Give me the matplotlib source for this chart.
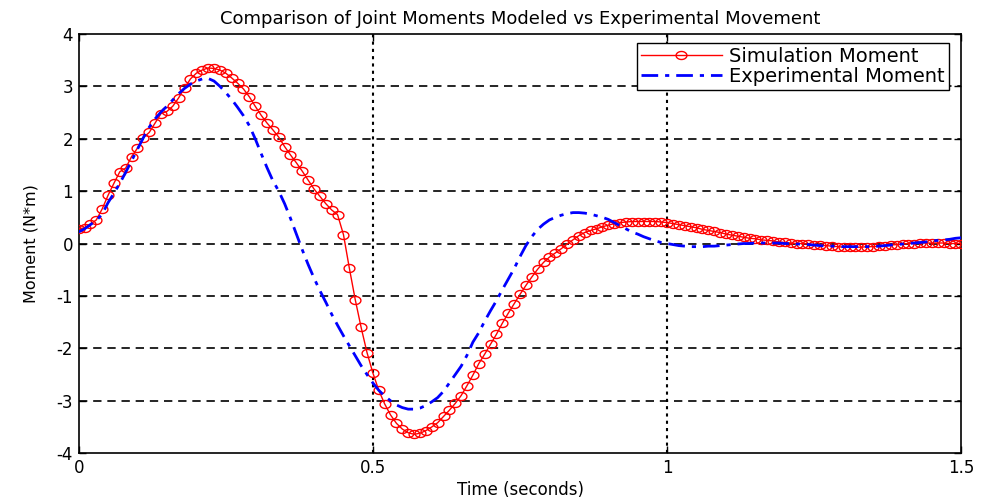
import numpy as np
import matplotlib
matplotlib.use("Agg")
import matplotlib.pyplot as plt
from matplotlib.path import Path

plt.rcParams['font.family'] = ['DejaVu Sans']

# Sampling interval of both moment traces (seconds)
dt = 0.01

# Simulated joint moment (N*m), one value per sample from t = 0 to 1.5 s
sim_moment = [
    0.28, 0.30, 0.37, 0.45, 0.66, 0.92, 1.15, 1.37, 1.44, 1.66,
    1.82, 2.02, 2.12, 2.30, 2.48, 2.52, 2.62, 2.78, 2.97, 3.14,
    3.25, 3.31, 3.35, 3.34, 3.31, 3.25, 3.16, 3.06, 2.95, 2.80,
    2.62, 2.45, 2.30, 2.17, 2.03, 1.85, 1.69, 1.54, 1.38, 1.21,
    1.04, 0.90, 0.76, 0.64, 0.55, 0.17, -0.47, -1.07, -1.60, -2.08,
    -2.47, -2.80, -3.06, -3.27, -3.43, -3.54, -3.61, -3.64, -3.62, -3.57,
    -3.50, -3.42, -3.30, -3.18, -3.05, -2.90, -2.71, -2.51, -2.29, -2.11,
    -1.92, -1.73, -1.52, -1.33, -1.15, -0.97, -0.80, -0.64, -0.49, -0.36,
    -0.26, -0.18, -0.10, -0.01, 0.07, 0.15, 0.21, 0.25, 0.28, 0.32,
    0.35, 0.38, 0.40, 0.41, 0.42, 0.42, 0.42, 0.42, 0.42, 0.41,
    0.40, 0.38, 0.36, 0.34, 0.32, 0.30, 0.27, 0.25, 0.23, 0.21,
    0.18, 0.16, 0.14, 0.12, 0.10, 0.09, 0.07, 0.06, 0.05, 0.03,
    0.02, 0.01, 0.00, 0.00, -0.01, -0.02, -0.03, -0.04, -0.05, -0.06,
    -0.07, -0.07, -0.07, -0.07, -0.06, -0.06, -0.05, -0.04, -0.03, -0.02,
    -0.01, 0.00, 0.00, 0.01, 0.01, 0.01, 0.01, 0.01, 0.00, 0.00,
    0.00,
]

# Measured joint moment (N*m), same sampling
exp_moment = [
    0.22, 0.28, 0.36, 0.44, 0.56, 0.78, 0.96, 1.15, 1.36, 1.58,
    1.80, 2.02, 2.22, 2.38, 2.51, 2.62, 2.74, 2.86, 2.96, 3.04,
    3.10, 3.14, 3.15, 3.10, 3.00, 2.88, 2.75, 2.60, 2.44, 2.25,
    2.00, 1.72, 1.45, 1.20, 1.00, 0.76, 0.48, 0.18, -0.12, -0.40,
    -0.66, -0.90, -1.12, -1.35, -1.56, -1.76, -1.95, -2.14, -2.33, -2.50,
    -2.66, -2.80, -2.91, -3.00, -3.08, -3.13, -3.16, -3.16, -3.14, -3.09,
    -3.02, -2.94, -2.82, -2.66, -2.50, -2.34, -2.13, -1.88, -1.70, -1.48,
    -1.28, -1.09, -0.88, -0.68, -0.48, -0.25, -0.04, 0.13, 0.27, 0.37,
    0.45, 0.50, 0.54, 0.57, 0.59, 0.59, 0.58, 0.56, 0.53, 0.50,
    0.46, 0.40, 0.34, 0.28, 0.22, 0.18, 0.13, 0.09, 0.05, 0.02,
    0.00, -0.02, -0.04, -0.05, -0.06, -0.06, -0.06, -0.05, -0.05, -0.04,
    -0.03, -0.02, -0.01, 0.00, 0.00, 0.01, 0.01, 0.01, 0.01, 0.01,
    0.00, 0.00, -0.01, -0.01, -0.02, -0.03, -0.04, -0.05, -0.05, -0.06,
    -0.06, -0.06, -0.06, -0.06, -0.06, -0.06, -0.05, -0.04, -0.03, -0.02,
    -0.01, 0.00, 0.01, 0.02, 0.03, 0.05, 0.06, 0.07, 0.08, 0.10,
    0.11,
]

x_ticks = [0, 0.5, 1, 1.5]
x_tick_labels = ["0", "0.5", "1", "1.5"]
y_ticks = [-4, -3, -2, -1, 0, 1, 2, 3, 4]
y_tick_labels = ["-4", "-3", "-2", "-1", "0", "1", "2", "3", "4"]

t_sim = np.arange(len(sim_moment)) * dt
t_exp = np.arange(len(exp_moment)) * dt

# Slightly wide open-circle marker
theta = np.linspace(0, 2 * np.pi, 41)
ellipse = Path(np.column_stack([1.35 * np.cos(theta), np.sin(theta)]), closed=True)

fig = plt.figure(figsize=(9.83, 4.98), dpi=100)
ax = fig.add_axes([0.080, 0.090, 0.898, 0.842])

ax.plot(t_sim, sim_moment, color=(1, 0, 0), lw=1.0, marker=ellipse,
        markersize=7.8, markerfacecolor='none', markeredgecolor=(1, 0, 0),
        markeredgewidth=1.0, label="Simulation Moment", zorder=3)
ax.plot(t_exp, exp_moment, color=(0, 0, 1), lw=2.0,
        dashes=(6, 2.5, 1.5, 2.5), label="Experimental Moment", zorder=4)

ax.set_xlim(0, 1.5)
ax.set_ylim(-4, 4)
ax.set_xticks(x_ticks)
ax.set_xticklabels(x_tick_labels)
ax.set_yticks(y_ticks)
ax.set_yticklabels(y_tick_labels)

# Grid: dashed horizontal lines, dotted vertical lines
for yv in y_ticks[1:-1]:
    ax.axhline(yv, color='black', lw=1.2, dashes=(5, 3.5), zorder=1)
for xv in x_ticks[1:-1]:
    ax.axvline(xv, color='black', lw=1.5, dashes=(1.5, 2), zorder=1)

ax.tick_params(direction='in', length=5, width=1, top=True, right=True,
               labelsize=12, pad=4, colors='black')
for s in ax.spines.values():
    s.set_linewidth(1.2)
    s.set_color('black')

ax.set_title("Comparison of Joint Moments Modeled vs Experimental Movement",
             fontsize=13, pad=7)
ax.set_xlabel("Time (seconds)", fontsize=12, labelpad=3)
ax.set_ylabel("Moment (N*m)", fontsize=11.5, labelpad=13)

leg = ax.legend(loc='upper right', bbox_to_anchor=(0.9855, 0.978),
                fontsize=14, handlelength=4.2, handletextpad=0.35,
                borderpad=0.2, labelspacing=0.05, fancybox=False,
                framealpha=1, edgecolor='black', borderaxespad=0)
leg.get_frame().set_linewidth(1.0)

fig.savefig("out.png", dpi=100)
